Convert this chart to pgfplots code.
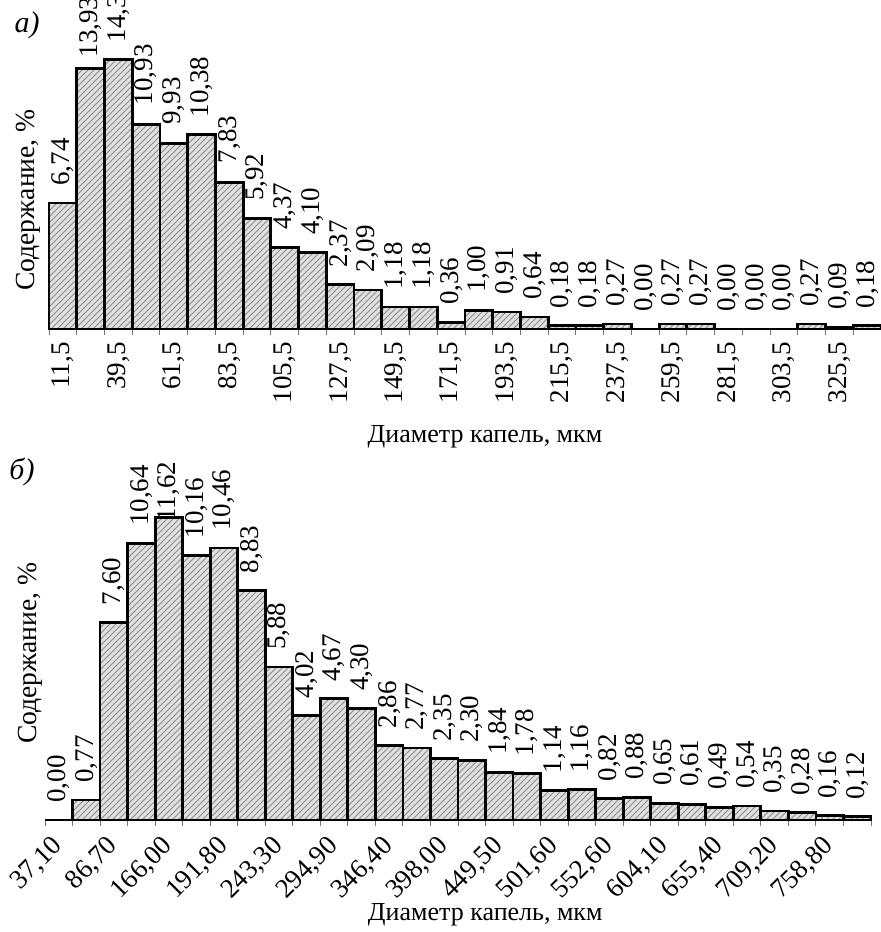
\documentclass[border=0pt]{standalone}
\usepackage{fontspec}
\setmainfont{Liberation Serif}
\usepackage{pgfplots}
\usepackage{pgfplotstable}
\pgfplotsset{compat=1.18}
\usetikzlibrary{patterns}

% i = bar index, v = value (%), lab = printed label, ly = label base height
\pgfplotstableread{
i v lab ly
0 6.74 6,74 7.65
1 13.93 13,93 14.50
2 14.39 14,39 15.30
3 10.93 10,93 11.95
4 9.93 9,93 10.90
5 10.38 10,38 11.29
6 7.83 7,83 8.85
7 5.92 5,92 6.83
8 4.37 4,37 5.28
9 4.10 4,10 5.01
10 2.37 2,37 3.28
11 2.09 2,09 3.00
12 1.18 1,18 2.09
13 1.18 1,18 2.09
14 0.36 0,36 1.27
15 1.00 1,00 1.91
16 0.91 0,91 1.82
17 0.64 0,64 1.55
18 0.18 0,18 1.09
19 0.18 0,18 1.09
20 0.27 0,27 1.18
21 0.00 0,00 0.91
22 0.27 0,27 1.18
23 0.27 0,27 1.18
24 0.00 0,00 0.91
25 0.00 0,00 0.91
26 0.00 0,00 0.91
27 0.27 0,27 1.18
28 0.09 0,09 1.00
29 0.18 0,18 1.09
}\topdata

\pgfplotstableread{
i v lab ly
0 0.00 0,00 0.65
1 0.77 0,77 1.42
2 7.60 7,60 8.25
3 10.64 10,64 11.29
4 11.62 11,62 11.46
5 10.16 10,16 10.81
6 10.46 10,46 11.11
7 8.83 8,83 9.48
8 5.88 5,88 6.53
9 4.02 4,02 4.67
10 4.67 4,67 5.32
11 4.30 4,30 4.95
12 2.86 2,86 3.51
13 2.77 2,77 3.42
14 2.35 2,35 3.00
15 2.30 2,30 2.95
16 1.84 1,84 2.49
17 1.78 1,78 2.43
18 1.14 1,14 1.79
19 1.16 1,16 1.81
20 0.82 0,82 1.47
21 0.88 0,88 1.53
22 0.65 0,65 1.30
23 0.61 0,61 1.26
24 0.49 0,49 1.14
25 0.54 0,54 1.19
26 0.35 0,35 1.00
27 0.28 0,28 0.93
28 0.16 0,16 0.81
29 0.12 0,12 0.77
}\botdata

\pgfplotsset{
  hist/.style={
    scale only axis, clip=false,
    xmin=-0.5, xmax=29.5, ymin=0,
    axis x line*=bottom, axis y line*=left,
    y axis line style={draw=none}, ytick=\empty,
    x axis line style={black, line width=0.6pt},
    xtick={0,2,...,28},
    minor xtick={-0.5,0.5,...,29.5},
    tick align=outside, major tick length=0pt, minor tick length=3pt,
    minor tick style={black!55, line width=0.5pt},
    tick label style={font=\fontsize{13.5}{15}\selectfont},
    xlabel style={font=\fontsize{13}{15}\selectfont},
    ylabel style={font=\fontsize{13.8}{15}\selectfont},
  },
  barstyle/.style={ybar, bar width=1, draw=black, line width=1.4pt,
    preaction={fill=black!12}, pattern=north east lines, pattern color=black!45,
    restrict y to domain=0.001:100},
  labstyle/.style={draw=none, mark=none, forget plot,
    nodes near coords, point meta=explicit symbolic,
    every node near coord/.append style={font=\fontsize{13.5}{15}\selectfont,
      rotate=90, anchor=west, inner sep=0pt}},
}

\begin{document}
\begin{tikzpicture}
% ---------------- panel a ----------------
\begin{axis}[hist,
  at={(24.5pt,-164.5pt)}, anchor=south west,
  width=416pt, height=164.5pt, ymax=17.59,
  xticklabels={{11,5},{39,5},{61,5},{83,5},{105,5},{127,5},{149,5},{171,5},{193,5},{215,5},{237,5},{259,5},{281,5},{303,5},{325,5}},
  xticklabel style={rotate=90, anchor=east, inner sep=0pt},
  xticklabel shift=6.5pt,
  xlabel={Диаметр капель, мкм},
  xlabel style={at={([yshift=-54pt]axis description cs:0.524,0)}, anchor=center},
  ylabel={Содержание, \%},
  ylabel style={at={([xshift=-10.5pt]axis description cs:0,0.392)}, anchor=center},
]
\addplot[barstyle] table[x=i, y=v] {\topdata};
\addplot[labstyle] table[x=i, y=ly, meta=lab] {\topdata};
\node[font=\fontsize{15}{17}\selectfont\itshape] at ([xshift=-11pt]axis description cs:0,0.924) {а)};
\end{axis}

% ---------------- panel b ----------------
\begin{axis}[hist,
  at={(22.5pt,-410pt)}, anchor=south west,
  width=413pt, height=177.5pt, ymax=13.65,
  xticklabels={{37,10},{86,70},{166,00},{191,80},{243,30},{294,90},{346,40},{398,00},{449,50},{501,60},{552,60},{604,10},{655,40},{709,20},{758,80}},
  xticklabel style={rotate=45, anchor=east, inner sep=0pt},
  xticklabel shift=11pt,
  xlabel={Диаметр капель, мкм},
  xlabel style={at={([yshift=-47.5pt]axis description cs:0.533,0)}, anchor=center},
  ylabel={Содержание, \%},
  ylabel style={at={([xshift=-7.5pt]axis description cs:0,0.470)}, anchor=center},
]
\addplot[barstyle] table[x=i, y=v] {\botdata};
\addplot[labstyle] table[x=i, y=ly, meta=lab] {\botdata};
\node[font=\fontsize{15}{17}\selectfont\itshape] at ([xshift=-11.5pt]axis description cs:0,0.980) {б)};
\end{axis}
\pgfresetboundingbox
\useasboundingbox (0,0) rectangle (440.5pt,-466pt);
\end{tikzpicture}
\end{document}
